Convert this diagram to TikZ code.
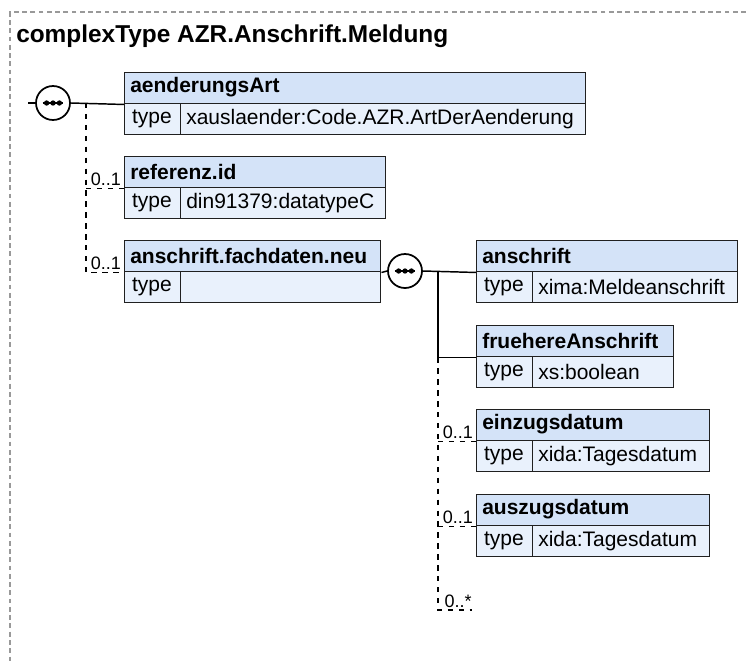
\documentclass[tikz,border=0pt]{standalone}
\usepackage{fontspec}
\setmainfont{Liberation Sans}
\definecolor{hdrfill}{HTML}{D4E3F8}
\definecolor{rowfill}{HTML}{E9F1FC}
\definecolor{boxline}{HTML}{202020}
\definecolor{outerline}{HTML}{999999}
\newcommand\boxfont{\fontsize{15.75pt}{19pt}\selectfont}
\newcommand\lblfont{\fontsize{13.5pt}{16pt}\selectfont}
% #1 name, #2 x, #3 y(top), #4 width, #5 title, #6 type
\newcommand\xelem[6]{%
  \node[hdrbox, minimum width=#4*0.75pt] (#1) at (#2,#3) {};
  \node[txt, anchor=west] (#1-n) at (#2+6,#3+15.5) {\bfseries #5};
  \node[rowbox, minimum width=56*0.75pt] (#1-t) at (#2,#3+31) {};
  \node[txt] (#1-tl) at (#2+28,#3+47) {type};
  \node[rowbox, minimum width=(#4-56)*0.75pt] (#1-v) at (#2+56,#3+31) {};
  \node[txt, anchor=west] (#1-vl) at (#2+62,#3+47) {#6};
}
% #1 name, #2 x, #3 y
\newcommand\seqicon[3]{%
  \node[seqcirc] (#1) at (#2,#3) {};
  \draw[line width=1.3pt] ([xshift=-7.8pt]#1.center) -- ([xshift=7.8pt]#1.center);
  \fill ([xshift=-4.8pt]#1.center) circle (2pt);
  \fill (#1.center) circle (2pt);
  \fill ([xshift=4.8pt]#1.center) circle (2pt);
}
\begin{document}
\begin{tikzpicture}[x=0.75pt,y=-0.75pt,
  hdrbox/.style={draw=boxline, fill=hdrfill, line width=1.1pt, anchor=north west,
    inner sep=0pt, minimum height=31*0.75pt},
  rowbox/.style={draw=boxline, fill=rowfill, line width=1.1pt, anchor=north west,
    inner sep=0pt, minimum height=31*0.75pt},
  txt/.style={inner sep=0pt, font=\boxfont, text=black},
  lbl/.style={inner sep=0pt, font=\lblfont, anchor=base east},
  seqcirc/.style={circle, draw=black, fill=white, line width=1.3pt, inner sep=0pt,
    minimum size=34*0.75pt},
  con/.style={draw=black, line width=1.1pt},
  dcon/.style={draw=black, line width=1pt, dash pattern=on 4pt off 4.2pt},
  outer/.style={draw=outerline, line width=0.8pt, dash pattern=on 3.6pt off 2.6pt}]
\useasboundingbox (0,0) rectangle (746,661);
\draw[outer] (746,12) -- (10,12) -- (10,661);
\node[inner sep=0pt, anchor=base west, font=\bfseries\fontsize{18.3pt}{22pt}\selectfont] (title) at (16,42) {complexType AZR.Anschrift.Meldung};

% left column
\xelem{aen}{124}{72}{461}{aenderungsArt}{xauslaender:Code.AZR.ArtDerAenderung}
\xelem{ref}{124}{156}{261}{referenz.id}{din91379:datatypeC}
\xelem{fach}{124}{240}{256}{anschrift.fachdaten.neu}{}

% right column
\xelem{ans}{476}{240}{261}{anschrift}{xima:Meldeanschrift}
\xelem{fru}{476}{325}{197}{fruehereAnschrift}{xs:boolean}
\xelem{einz}{476}{409}{233}{einzugsdatum}{xida:Tagesdatum}
\xelem{ausz}{476}{494}{233}{auszugsdatum}{xida:Tagesdatum}

% sequence 1
\coordinate (stub) at (28,103);
\seqicon{s1}{53}{103}
\draw[con] (stub) -- (s1.west);
\draw[con] (s1.east) -- (aen.south west);
\coordinate (v1) at (86,103);
\draw[dcon] (v1) |- (fach.south west);
\draw[dcon] (ref.south west -| v1) -- (ref.south west);
\node[lbl] (ref-m) at ([xshift=-2.2pt,yshift=2.2pt]ref.south west) {0..1};
\node[lbl] (fach-m) at ([xshift=-2.2pt,yshift=2.2pt]fach.south west) {0..1};

% sequence 2
\seqicon{s2}{405}{271}
\draw[con] (fach.south east) -- (s2.west);
\draw[con] (s2.east) -- (ans.south west);
\coordinate (v2) at (438,271);
\draw[con] (v2) |- (fru.south west);
\coordinate (anyend) at (472,610);
\draw[dcon] (fru.south west -| v2) |- (anyend);
\draw[dcon] (einz.south west -| v2) -- (einz.south west);
\draw[dcon] (ausz.south west -| v2) -- (ausz.south west);
\node[lbl] (einz-m) at ([xshift=-2.2pt,yshift=2.2pt]einz.south west) {0..1};
\node[lbl] (ausz-m) at ([xshift=-2.2pt,yshift=2.2pt]ausz.south west) {0..1};
\node[lbl] (any-m) at ([yshift=2.2pt]anyend) {0..*};
\end{tikzpicture}
\end{document}
